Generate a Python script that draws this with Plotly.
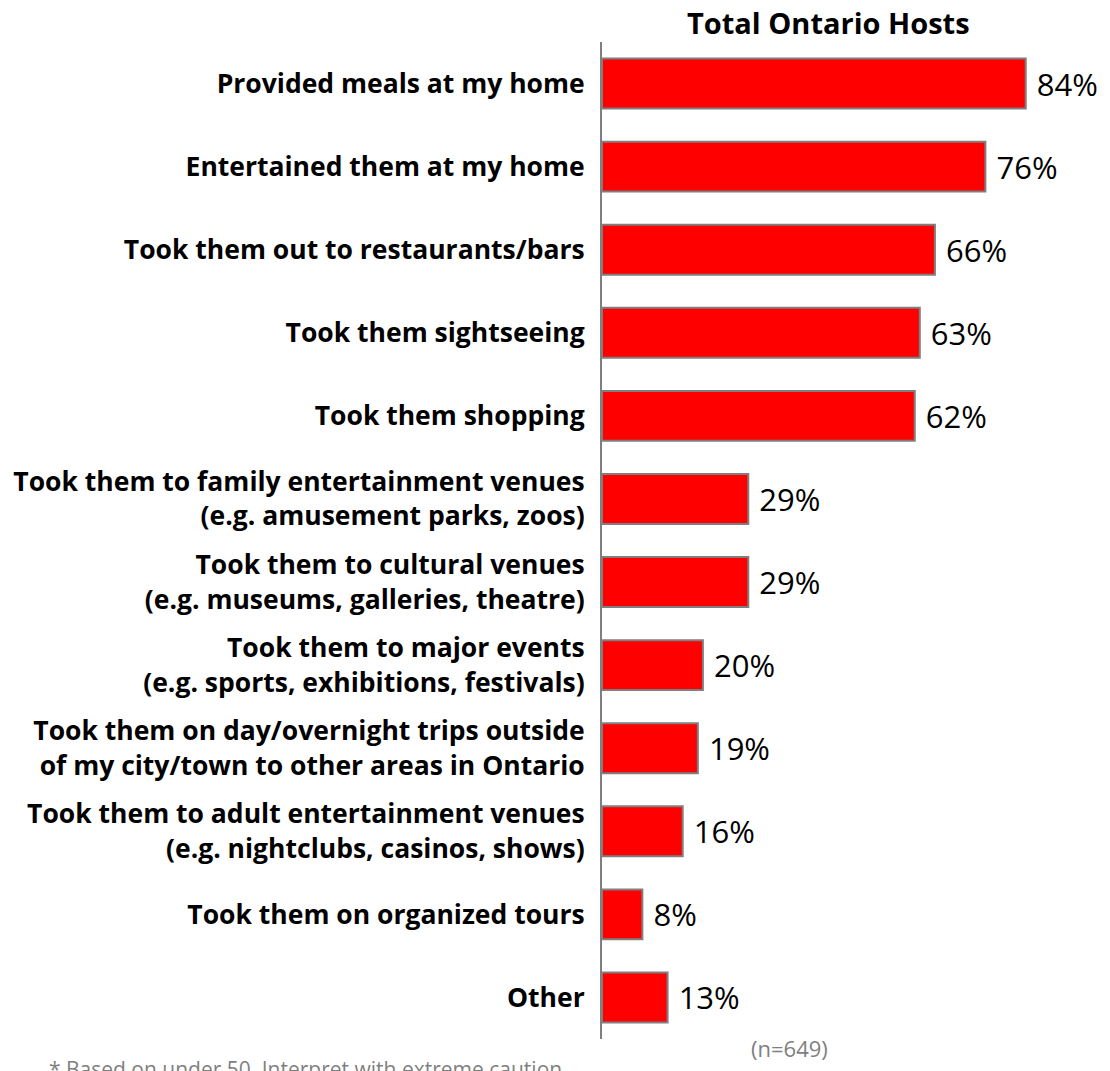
import plotly.graph_objects as go

categories = [
    "Provided meals at my home",
    "Entertained them at my home",
    "Took them out to restaurants/bars",
    "Took them sightseeing",
    "Took them shopping",
    "Took them to family entertainment venues<br>(e.g. amusement parks, zoos)",
    "Took them to cultural venues<br>(e.g. museums, galleries, theatre)",
    "Took them to major events<br>(e.g. sports, exhibitions, festivals)",
    "Took them on day/overnight trips outside<br>of my city/town to other areas in Ontario",
    "Took them to adult entertainment venues<br>(e.g. nightclubs, casinos, shows)",
    "Took them on organized tours",
    "Other",
]
values = [84, 76, 66, 63, 62, 29, 29, 20, 19, 16, 8, 13]
value_labels = [f"\u00a0{v}%" for v in values]

title_text = "Total Ontario Hosts"
sample_text = "(n=649)"
footnote_text = "* Based on under 50. Interpret with extreme caution."

FONT = "'Open Sans', 'Noto Sans', sans-serif"

fig = go.Figure(
    go.Bar(
        x=values,
        y=categories,
        orientation="h",
        marker=dict(color="#FF0000", line=dict(color="#7F7F7F", width=2)),
        text=value_labels,
        textposition="outside",
        textfont=dict(family=FONT, size=31, color="#000000"),
        cliponaxis=False,
        width=0.6,
    )
)

# page has an 8px body margin, so the figure is sized to fit inside the window
fig.update_layout(
    width=1102,
    height=1063,
    margin=dict(l=594, r=54, t=34, b=32, autoexpand=False),
    paper_bgcolor="white",
    plot_bgcolor="white",
    showlegend=False,
    font=dict(family=FONT),
    bargap=0.4,
    xaxis=dict(range=[0, 90], visible=False, fixedrange=True),
    yaxis=dict(
        autorange="reversed",
        showline=True,
        linecolor="#7F7F7F",
        linewidth=2,
        showgrid=False,
        zeroline=False,
        ticks="",
        ticklabelstandoff=10,
        automargin=False,
        tickfont=dict(family=FONT, size=26.5, color="#000000", weight="bold"),
    ),
    annotations=[
        dict(
            text=f"<b>{title_text}</b>",
            xref="paper", yref="paper", x=0.498, y=1.0,
            xanchor="center", yanchor="middle", yshift=20,
            showarrow=False,
            font=dict(family=FONT, size=29, color="#000000"),
        ),
        dict(
            text=sample_text,
            xref="paper", yref="paper", x=0.414, y=0.0,
            xanchor="center", yanchor="middle", yshift=-9, showarrow=False,
            font=dict(family=FONT, size=22, color="#7F7F7F"),
        ),
        dict(
            text=footnote_text,
            xref="paper", yref="paper", x=-1.222, y=0.0,
            xanchor="left", yanchor="top", yshift=-14, showarrow=False,
            font=dict(family=FONT, size=21, color="#7F7F7F"),
        ),
    ],
)

fig.write_html("out.html")
